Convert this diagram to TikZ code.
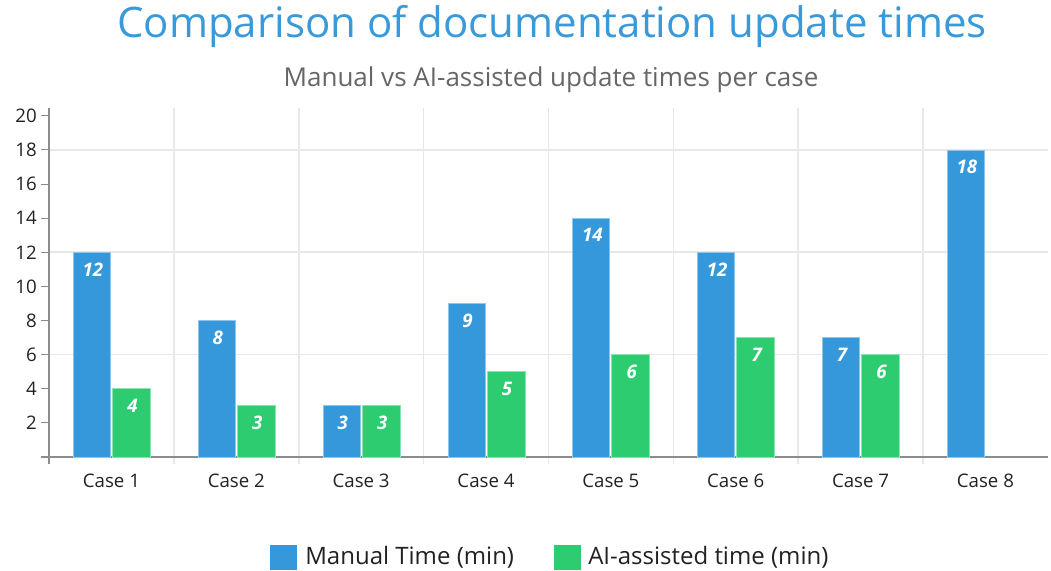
\documentclass[tikz,border=0pt]{standalone}
\usepackage{fontspec}
\setmainfont{Open Sans}

\definecolor{manualblue}{HTML}{3498DB}
\definecolor{aigreen}{HTML}{2ECC71}
\definecolor{titleblue}{HTML}{3A9AD9}
\definecolor{gridgray}{HTML}{E8E8E8}
\definecolor{axisgray}{HTML}{8C8C8C}
\definecolor{labelgray}{HTML}{666666}
\definecolor{inkgray}{HTML}{222222}

\tikzset{
  gridline/.style={draw=gridgray, line width=1.2},
  axisline/.style={draw=axisgray, line width=1.5},
  manualbar/.style={fill=manualblue, draw=manualblue!55!white, line width=0.6},
  aibar/.style={fill=aigreen, draw=aigreen!55!white, line width=0.6},
  barvalue/.style={text=white, font=\fontsize{14}{16}\selectfont\itshape\bfseries},
  ticklabel/.style={text=inkgray, font=\fontsize{14}{16}\selectfont},
  legendtext/.style={text=inkgray, font=\fontsize{18}{20}\selectfont, anchor=west, inner sep=0pt},
  legendkey/.style={minimum width=20pt, minimum height=19pt, inner sep=0pt},
}

\begin{document}
\begin{tikzpicture}[x=0.75pt,y=0.75pt,yscale=-1,xscale=1]
\useasboundingbox (0,0) rectangle (1051,571);

% title and subtitle
\node (title) at (552,37) [anchor=base, text=titleblue, font=\fontsize{31.5}{34}\selectfont] {Comparison of documentation update times};
\node (subtitle) at (551,86) [anchor=base, text=labelgray, font=\fontsize{19.5}{22}\selectfont] {Manual vs AI-assisted update times per case};

% horizontal grid every 6
\foreach \v in {6,12,18}
  \draw [gridline] (49,457-17.06*\v) -- (1048,457-17.06*\v);
% vertical grid between cases
\foreach \k in {1,...,7}
  \draw [gridline] (49+124.86*\k,108) -- (49+124.86*\k,464);

% y axis with ticks
\foreach \v in {2,4,...,20} {
  \draw [axisline, line width=0.8] (41,457-17.06*\v) -- (49,457-17.06*\v);
  \node (ylab\v) at (37,457-17.06*\v) [ticklabel, anchor=east, inner sep=0pt] {\v};
}
\draw [axisline] (49,108) -- (49,464);
\draw [axisline] (41,457) -- (1048,457);

% bars: case / manual / ai-assisted (0 = none)
\foreach \c/\m/\a in {1/12/4, 2/8/3, 3/3/3, 4/9/5, 5/14/6, 6/12/7, 7/7/6, 8/18/0} {
  \pgfmathsetmacro{\cx}{49+124.86*(\c-0.5)}
  \draw [manualbar] (\cx-38,457) rectangle (\cx-1,457-17.06*\m);
  \node (mval\c) at (\cx-18.5,457-17.06*\m+17) [barvalue] {\m};
  \ifnum\a>0
    \draw [aibar] (\cx+1,457) rectangle (\cx+39,457-17.06*\a);
    \node (aval\c) at (\cx+21,457-17.06*\a+17) [barvalue] {\a};
  \fi
  \node (case\c) at (\cx,481) [ticklabel] {Case \c};
}

% legend
\node (keymanual) at (283.5,557.5) [legendkey, fill=manualblue] {};
\node (txtmanual) at (305,557) [legendtext] {Manual Time (min)};
\node (keyai) at (567.5,557.5) [legendkey, fill=aigreen] {};
\node (txtai) at (588,557) [legendtext] {AI-assisted time (min)};

\end{tikzpicture}
\end{document}
